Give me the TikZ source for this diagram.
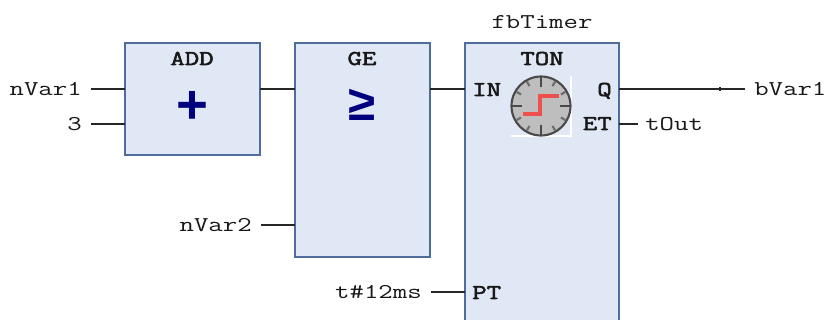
\documentclass[tikz,border=0pt]{standalone}
\usepackage{fontspec}
\setmainfont{Liberation Sans}
\setmonofont{Latin Modern Mono}[FakeStretch=1.33]
\newfontfamily\lblbold{Latin Modern Mono}[FakeStretch=1.33,FakeBold=2.5]
\definecolor{blockfill}{HTML}{E1E8F5}
\definecolor{blockedge}{HTML}{4F6D9C}
\definecolor{symcol}{HTML}{00007F}
\definecolor{clockgray}{HTML}{BEBEBE}
\definecolor{clockedge}{HTML}{4A4A4A}
\definecolor{stepred}{HTML}{EE5050}
\tikzset{
  x=0.75pt,y=-0.75pt,
  block/.style={draw=blockedge,fill=blockfill,line width=1.1pt},
  wire/.style={draw=black!85,line width=0.9pt},
  txt/.style={font=\fontsize{15.8}{16}\selectfont\ttfamily,text=black!90,inner sep=0pt},
  boldtxt/.style={font=\fontsize{15.8}{16}\selectfont\lblbold,text=black!90,inner sep=0pt},
  sym/.style={text=symcol,inner sep=0pt}
}
\begin{document}
\begin{tikzpicture}
\useasboundingbox (0,0) rectangle (829,320);
\fill[white] (0,0) rectangle (829,320);
% blocks
\path[block] (125,43) rectangle (260,155);
\path[block] (295,43) rectangle (430,257);
\path[block] (465,43) -- (619,43) -- (619,325) -- (465,325) -- cycle;
\coordinate (addA) at (125,89);
\coordinate (addB) at (125,124);
\coordinate (addOut) at (260,89);
\coordinate (geA) at (295,89);
\coordinate (geB) at (295,225);
\coordinate (geOut) at (430,89);
\coordinate (tonIn) at (465,89);
\coordinate (tonPt) at (465,292);
\coordinate (tonQ) at (619,89);
\coordinate (tonEt) at (619,124);
\coordinate (qEnd) at (745,89);
\coordinate (etEnd) at (638,124);
\coordinate (tick) at (720,89);
\coordinate (s1) at (91,89);
\coordinate (s2) at (91,124);
\coordinate (s3) at (261,225);
\coordinate (s4) at (431,292);
% wires
\draw[wire] (s1) -- (addA);
\draw[wire] (s2) -- (addB);
\draw[wire] (addOut) -- (geA);
\draw[wire] (s3) -- (geB);
\draw[wire] (geOut) -- (tonIn);
\draw[wire] (s4) -- (tonPt);
\draw[wire] (tonQ) -- (qEnd);
\draw[wire] (tonEt) -- (etEnd);
\draw[wire] ([yshift=1.4pt]tick) -- ([yshift=-1.4pt]tick);
% texts
\node[txt,anchor=base east] (n1) at (82,96) {nVar1};
\node[txt,anchor=base east] (n2) at (82,131) {3};
\node[txt,anchor=base east] (n3) at (252,232) {nVar2};
\node[txt,anchor=base east] (n4) at (422,299) {t\#12ms};
\node[txt,anchor=base west] (n5) at (754,96) {bVar1};
\node[txt,anchor=base west] (n6) at (645,131) {tOut};
\node[txt,anchor=base] (n7) at (542,29) {fbTimer};
\node[boldtxt,anchor=base] (t1) at (192,65) {ADD};
\node[boldtxt,anchor=base] (t2) at (362,65) {GE};
\node[boldtxt,anchor=base] (t3) at (542,65) {TON};
\node[boldtxt,anchor=base west] (p1) at (472,96) {IN};
\node[boldtxt,anchor=base west] (p2) at (472,299) {PT};
\node[boldtxt,anchor=base east] (p3) at (612,96) {Q};
\node[boldtxt,anchor=base east] (p4) at (612,130) {ET};
\node[sym,font=\fontsize{41}{41}\selectfont\bfseries] (plus) at (192,107) {+};
\node[sym,font=\fontsize{37}{37}\selectfont\bfseries] (ge) at (362,105) {≥};
% clock
\draw[white,line width=0.9pt] (571,76) -- (571,136) -- (511,136);
\draw[clockedge,fill=clockgray,line width=1.6pt] (541,106) circle (29.5);
\foreach \a in {0,90,180,270}
  \draw[clockedge,line width=2.1pt] (541,106) ++(\a:19) -- ++(\a:10);
\foreach \a in {30,60,120,150,210,240,300,330}
  \draw[clockedge!70!clockgray,line width=1.6pt] (541,106) ++(\a:23) -- ++(\a:5);
\draw[stepred,line width=2.6pt] (523,114) -- (540,114) -- (540,96) -- (559,96);
\end{tikzpicture}
\end{document}
